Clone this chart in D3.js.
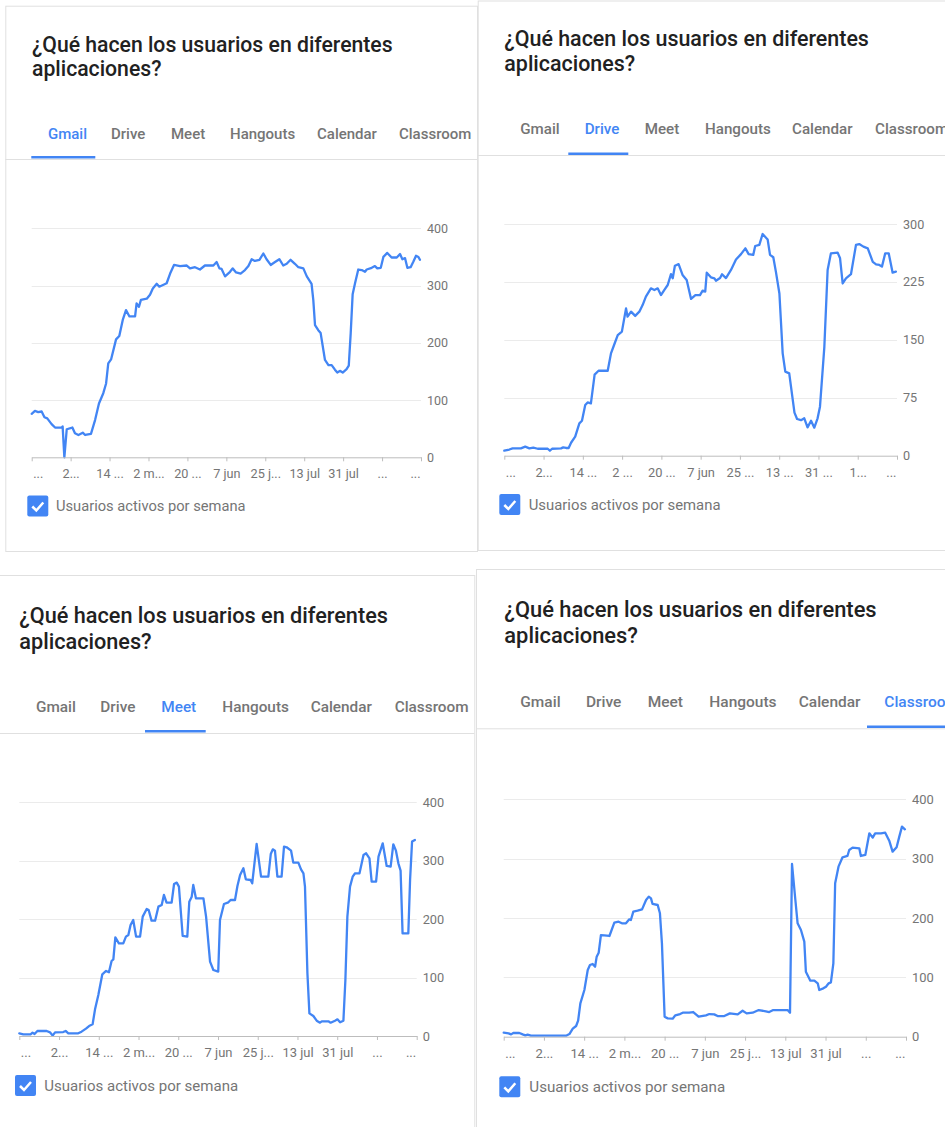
<!DOCTYPE html>
<html><head><meta charset="utf-8">
<script src="https://cdn.jsdelivr.net/npm/d3@7"></script>
<style>
html,body{margin:0;padding:0;background:#fff;}
svg{display:block;font-family:Roboto,"Noto Sans",Arial,sans-serif;}
</style></head><body>
<script>
// ---------- DATA ----------
const titleLines = ["¿Qué hacen los usuarios en diferentes", "aplicaciones?"];
const tabNames = ["Gmail", "Drive", "Meet", "Hangouts", "Calendar", "Classroom"];
const legendLabel = "Usuarios activos por semana";

const xLabelsA = ["...", "2...", "14 ...", "2 m...", "20 ...", "7 jun", "25 j...", "13 jul", "31 jul", "...", "..."];
const xLabelsB = ["...", "2...", "14 ...", "2 ...", "20 ...", "7 jun", "25 ...", "13 ...", "31 ...", "1...", "..."];
const yTicks400 = [0, 100, 200, 300, 400];
const yTicks300 = [0, 75, 150, 225, 300];

// [day index, weekly active users]
const gmailUsers = [[0,76],[1.5,81],[3,79],[4.6,80],[5.9,70],[7.2,68],[9.2,58],[10.8,52],[13.9,52],[14.3,54],[15.1,0],[16.2,49],[18.8,52],[20,42],[21.6,39],[23.6,43],[24.7,39],[27.4,41],[29.3,65],[31.1,94],[33.1,112],[34.4,129],[35.4,164],[36.7,171],[39,206],[40.5,212],[42.1,240],[43.6,257],[45.2,246],[47.8,246],[48.5,269],[49.6,263],[50.5,275],[53.2,277],[54.7,284],[56,295],[57.8,303],[59,298],[62.4,304],[64,321],[65.8,336],[68.6,334],[71.7,335],[73.2,330],[75.5,332],[77.8,328],[80.1,335],[84,335],[85.5,341],[86.8,330],[87.8,329],[89.4,316],[91.7,324],[92.9,330],[94.5,323],[96.6,321],[98.6,327],[100.2,334],[101.7,346],[103.2,343],[105.3,345],[107.1,356],[108.6,346],[110.5,336],[112.5,341],[114.5,346],[116.3,335],[117.9,338],[119.7,345],[121.7,338],[123.3,332],[125.6,330],[127.2,316],[129.4,303],[130.2,275],[131,231],[132.5,222],[133.6,217],[135.6,170],[137.2,161],[138.7,161],[140.2,153],[141.3,148],[142.5,151],[143.8,148],[145.6,154],[146.6,160],[147.5,217],[148.4,285],[149.5,304],[151,328],[152.6,327],[154.1,324],[154.9,328],[157.2,331],[158.7,334],[159.8,330],[161.4,331],[162.6,350],[164.4,357],[166.4,349],[168.8,349],[170.3,355],[171.4,346],[172.6,348],[173.7,331],[175.2,332],[176.5,342],[177.7,352],[178.8,350],[179.5,345]];

const driveUsers = [[0,6.5],[2.3,8],[3.8,9.5],[7.6,9.5],[9.6,11.7],[11.5,9.5],[13.3,10.4],[15.3,9],[19.9,9],[20.9,6.5],[21.9,9],[26,9.5],[27,10.8],[28.3,10],[29.5,10],[30.6,16.8],[32.5,24.6],[34.4,41.9],[35.6,45.3],[37.1,65.6],[38.2,69],[39.7,67.8],[41.4,105],[43.2,110],[47.4,110],[48.9,132.5],[50.4,144],[52,156],[53.9,160.6],[55.8,190.8],[56.5,180],[58.1,186.5],[60,181],[61.9,186.5],[63.4,195],[64.9,206],[67.2,216.7],[68.8,214.5],[70.3,216.7],[71.8,208],[73.3,214.5],[74.9,221],[76.4,235],[77.2,229.7],[78.2,246],[79.9,248],[81.7,234],[83.6,227.5],[85.6,203],[87.6,208],[89.7,208],[90.9,213.7],[92.1,212.4],[92.8,237],[94.7,231],[96.3,229.7],[97,226.6],[98.9,230],[99.8,235],[101.6,230],[103.9,240.5],[106.2,254],[108.5,261],[110.5,268.5],[112,261],[114.1,260],[115,271.5],[116.9,273],[118.4,287],[120.7,280],[121.8,260],[123.3,257],[124.5,238],[126.1,210],[127.6,132.5],[128.8,108.8],[130.6,106.6],[133,55.7],[134.2,47.5],[136,46],[137.5,48.4],[139,36.7],[140.6,45.3],[142.1,36.3],[143.6,48.4],[144.7,63.5],[146.7,141],[148.2,240.5],[149.7,262],[152.8,263],[153.9,255.6],[155.1,223],[156.6,229.7],[158.9,235],[161.2,273],[162.7,274],[164.6,270.7],[166.6,268.5],[168.9,251],[170.4,247.8],[171.9,247],[173.1,244.8],[174.6,262],[176.2,262],[178,237],[179.5,238.3]];

const meetUsers = [[0,4.6],[1.8,2.9],[5.1,2.9],[6,5.7],[6.9,3.4],[8.2,8.6],[12.4,8.6],[13.9,6.3],[15.1,0.6],[16.2,6.3],[19.9,6.8],[21,8.6],[22.2,4.6],[26.7,4.6],[28.2,7.4],[30.2,12.6],[31.6,17.1],[33.2,20],[34.3,45.6],[35.8,70.2],[37.6,105.6],[39.3,111.3],[40.6,109],[41.8,128.4],[42.6,131.2],[43.5,168.9],[45.1,158.6],[47.1,158.6],[48.3,170],[49.4,172.9],[50.4,190],[51.6,198.6],[52.9,170],[54.7,170],[55.9,204.3],[57.7,217.4],[58.6,215.7],[59.9,197.4],[61.5,197.4],[63,221.4],[64.5,224.3],[65.5,241.4],[66.7,228.2],[69,228.2],[70.1,260.2],[71.3,262.5],[72.3,255.6],[74,171.2],[76.1,170],[77,229.9],[78.1,238.5],[78.8,258.5],[80,235.7],[83.4,235.7],[84.6,204.3],[86.4,127.2],[87.9,113],[90.1,110.1],[90.9,198.6],[92.7,226],[94.7,228.8],[95.7,232.8],[97.7,232.8],[98.8,256.8],[100,275.6],[101.5,287],[102.6,268.2],[104.8,267],[105.5,261.3],[107.5,328.7],[109.5,272.7],[112.8,272.7],[113.9,311.5],[114.8,319.5],[115.8,317.2],[116.9,272.7],[118.8,272.7],[119.9,324.1],[121.1,323],[123.1,317.2],[124.1,296.7],[126.4,296.7],[127.6,285.3],[128.7,278.5],[129.4,255.6],[130.5,107.3],[131.4,38.8],[133.2,34.2],[134.7,26.2],[136.2,22.8],[137,25.1],[140,25.1],[141,22.8],[143,26.2],[144.1,28.5],[145.3,23.4],[146.8,26.2],[147.7,95.9],[148.6,204.3],[149.8,255.6],[151,272.7],[152.1,278.5],[154.1,278.5],[155.9,309.8],[157.1,312.7],[158.6,304.1],[159.6,264.2],[161.6,264.2],[162.7,307],[164.6,329.8],[166.4,291],[168.2,289.9],[169.4,328.1],[170.6,317.2],[171.7,295.6],[172.7,283],[173.6,175.7],[176.2,175.7],[177,267],[177.9,332.7],[179.2,335.5]];

const classroomUsers = [[0,6.7],[2.2,5.6],[3.3,3.9],[4.3,6.2],[7,6.2],[8.5,3.9],[9.7,2.2],[10.7,3.4],[12.2,1.7],[27.9,1.7],[29.4,4.5],[30.9,13.5],[32.4,18],[33.3,27],[34.3,56.2],[36.1,78.7],[37.6,112.4],[38.6,120.8],[39.8,122.5],[40.9,118],[41.6,134.8],[42.5,141.6],[43.5,171.3],[45,170.8],[47.3,169.7],[49.5,192.1],[51.4,193.8],[52.9,191],[54.7,191],[56.2,197.8],[56.9,196.6],[58,210.7],[59.9,212.4],[61.9,214.6],[63.7,230.3],[64.9,236],[65.9,233.1],[66.6,223.6],[68.9,221.9],[69.9,207.9],[70.8,157.3],[72,33.7],[73.4,30.9],[75.6,30.3],[76.8,36],[78.9,38.2],[80.1,40.4],[83,40.4],[84.8,41.6],[87.2,33.7],[90.5,36],[92,38.2],[94.2,37.6],[95.7,34.8],[98.7,34.8],[101.2,39.3],[104.7,37.6],[106.9,43.8],[108.7,39.3],[111.4,40.4],[114.1,44.9],[117.3,42.7],[118.8,41.6],[120.6,44.9],[127,44.9],[128.1,40.4],[129,291],[130.5,230.3],[131.5,191],[133,179.8],[134.5,160.1],[135.2,109.6],[137.2,94.4],[139,94.4],[140.5,89.9],[141.2,78.7],[143,81.5],[144.2,84.3],[145.4,89.9],[146.4,91.6],[147.5,123.6],[148.3,258.4],[149.8,286.5],[151.6,302.3],[153.8,304.5],[154.6,314.6],[156.1,318.5],[159.1,317.4],[159.8,304.5],[161.8,306.2],[163.6,342.7],[165.1,335.4],[166.2,342.7],[168.8,342.7],[170.7,343.8],[172.5,330.3],[174,311.8],[175.8,319.1],[177,337.1],[178.2,353.9],[179.5,349.4]];

// ---------- LAYOUT (per screenshot card) ----------
const cards = [
  { active: 0, data: gmailUsers, yTicks: yTicks400, xLabels: xLabelsA, s: 1.0,
    box: [5.3, 5.7, 471.7, 545.3], titleX: 32, titleY: [51.7, 76], tabY: 139.3,
    tabX: [48, 111, 171, 230, 317, 399], ul: [31.3, 95.3, 156], sepY: 159,
    plot: [31.7, 421, 228.3, 457.3], xLabY: 478, cb: [27.3, 495.5], legX: 56 },
  { active: 1, data: driveUsers, yTicks: yTicks300, xLabels: xLabelsB, s: 1.011,
    box: [477.7, 0.5, 500, 549.5], titleX: 504.3, titleY: [46, 70.5], tabY: 134,
    tabX: [520.3, 584.7, 644.7, 705, 792, 875], ul: [568.3, 628.3, 152.5], sepY: 155,
    plot: [504.3, 897, 224, 455.7], xLabY: 477, cb: [499.3, 494], legX: 528.7 },
  { active: 2, data: meetUsers, yTicks: yTicks400, xLabels: xLabelsA, s: 1.022,
    box: [-8, 575, 482.3, 600], titleX: 19.3, titleY: [623.3, 648.5], tabY: 711.7,
    tabX: [36, 100.3, 161.3, 222.3, 310.7, 394.7], ul: [145, 205.7, 730], sepY: 733,
    plot: [19.3, 416.7, 802.3, 1036], xLabY: 1057, cb: [15, 1075], legX: 44.3 },
  { active: 5, data: classroomUsers, yTicks: yTicks400, xLabels: xLabelsA, s: 1.033,
    box: [476, 569, 500, 600], titleX: 504.3, titleY: [617.3, 643], tabY: 707.3,
    tabX: [520.3, 586, 647.7, 709.3, 798.7, 884.3], ul: [867, 960, 725.5], sepY: 728.3,
    plot: [503.7, 906, 799.3, 1036.7], xLabY: 1058.5, cb: [499.3, 1076.3], legX: 529.3 }
];

// ---------- DRAW ----------
const W = 945, H = 1127;
const BLUE = "#4285f4", GRAY = "#757575";
const svg = d3.select("body").append("svg").attr("width", W).attr("height", H);

cards.forEach(c => {
  const g = svg.append("g");
  const [bx, by, bw, bh] = c.box;
  g.append("rect").attr("x", bx + 0.5).attr("y", by + 0.5).attr("width", bw).attr("height", bh)
    .attr("fill", "#fff").attr("stroke", "#e0e0e0").attr("stroke-width", 1);

  // title
  titleLines.forEach((t, i) => {
    g.append("text").attr("x", c.titleX).attr("y", c.titleY[i]).text(t)
      .attr("font-size", 21.2 * c.s).attr("font-weight", 500).attr("fill", "#212121");
  });

  // tabs
  tabNames.forEach((t, i) => {
    g.append("text").attr("x", c.tabX[i]).attr("y", c.tabY).text(t)
      .attr("font-size", 15 * c.s).attr("font-weight", 500)
      .attr("fill", i === c.active ? BLUE : GRAY);
  });
  g.append("line").attr("x1", bx).attr("x2", bx + bw).attr("y1", c.sepY + 0.5).attr("y2", c.sepY + 0.5)
    .attr("stroke", "#e0e0e0").attr("stroke-width", 1);
  g.append("rect").attr("x", c.ul[0]).attr("y", c.ul[2]).attr("width", c.ul[1] - c.ul[0]).attr("height", 2.5)
    .attr("fill", BLUE);

  // scales
  const [pl, pr, pt, pb] = c.plot;
  const yMax = d3.max(c.yTicks);
  const x = d3.scaleLinear().domain([0, 180]).range([pl, pr]);
  const y = d3.scaleLinear().domain([0, yMax]).range([pb, pt]);
  const tickDays = c.xLabels.map((_, i) => i * 18);

  // gridlines
  g.append("g").selectAll("line").data(c.yTicks.filter(v => v > 0)).join("line")
    .attr("x1", pl).attr("x2", pr).attr("y1", d => Math.round(y(d)) + 0.5).attr("y2", d => Math.round(y(d)) + 0.5)
    .attr("stroke", "#ebebeb").attr("stroke-width", 1);

  // y axis (right)
  const ya = g.append("g").attr("transform", `translate(${pr + 6},0)`)
    .call(d3.axisRight(y).tickValues(c.yTicks).tickSize(0).tickPadding(0));
  ya.select(".domain").remove();
  ya.selectAll("text").attr("font-size", 12.5 * c.s).attr("fill", GRAY).attr("font-family", "Roboto");

  // line
  g.append("path").datum(c.data)
    .attr("d", d3.line().x(d => x(d[0])).y(d => y(d[1])))
    .attr("fill", "none").attr("stroke", BLUE).attr("stroke-width", 2.3)
    .attr("stroke-linejoin", "round").attr("stroke-linecap", "round");

  // x axis
  const xa = g.append("g").attr("transform", `translate(0,${pb})`)
    .call(d3.axisBottom(x).tickValues(tickDays).tickSize(4).tickSizeOuter(0).tickPadding(0)
      .tickFormat((d, i) => c.xLabels[i]));
  xa.select(".domain").attr("stroke", "#bdbdbd");
  xa.selectAll(".tick line").attr("stroke", "#bdbdbd");
  xa.selectAll("text").attr("font-size", 12.7 * c.s).attr("fill", GRAY).attr("font-family", "Roboto")
    .attr("dy", null).attr("y", c.xLabY - pb)
    .attr("text-anchor", (d, i) => i === 0 ? "start" : (i === c.xLabels.length - 1 ? "end" : "middle"))
    .attr("x", (d, i) => i === 0 ? 1 : (i === c.xLabels.length - 1 ? -1 : 0));

  // legend
  const [cx, cy] = c.cb;
  g.append("rect").attr("x", cx).attr("y", cy).attr("width", 21).attr("height", 21).attr("rx", 2)
    .attr("fill", BLUE);
  g.append("path").attr("d", `M${cx + 5},${cy + 11} L${cx + 9},${cy + 15} L${cx + 16},${cy + 7}`)
    .attr("fill", "none").attr("stroke", "#fff").attr("stroke-width", 2.5);
  g.append("text").attr("x", c.legX).attr("y", cy + 15.5).text(legendLabel)
    .attr("font-size", 14.7 * c.s).attr("fill", GRAY);
});
</script>
</body></html>
